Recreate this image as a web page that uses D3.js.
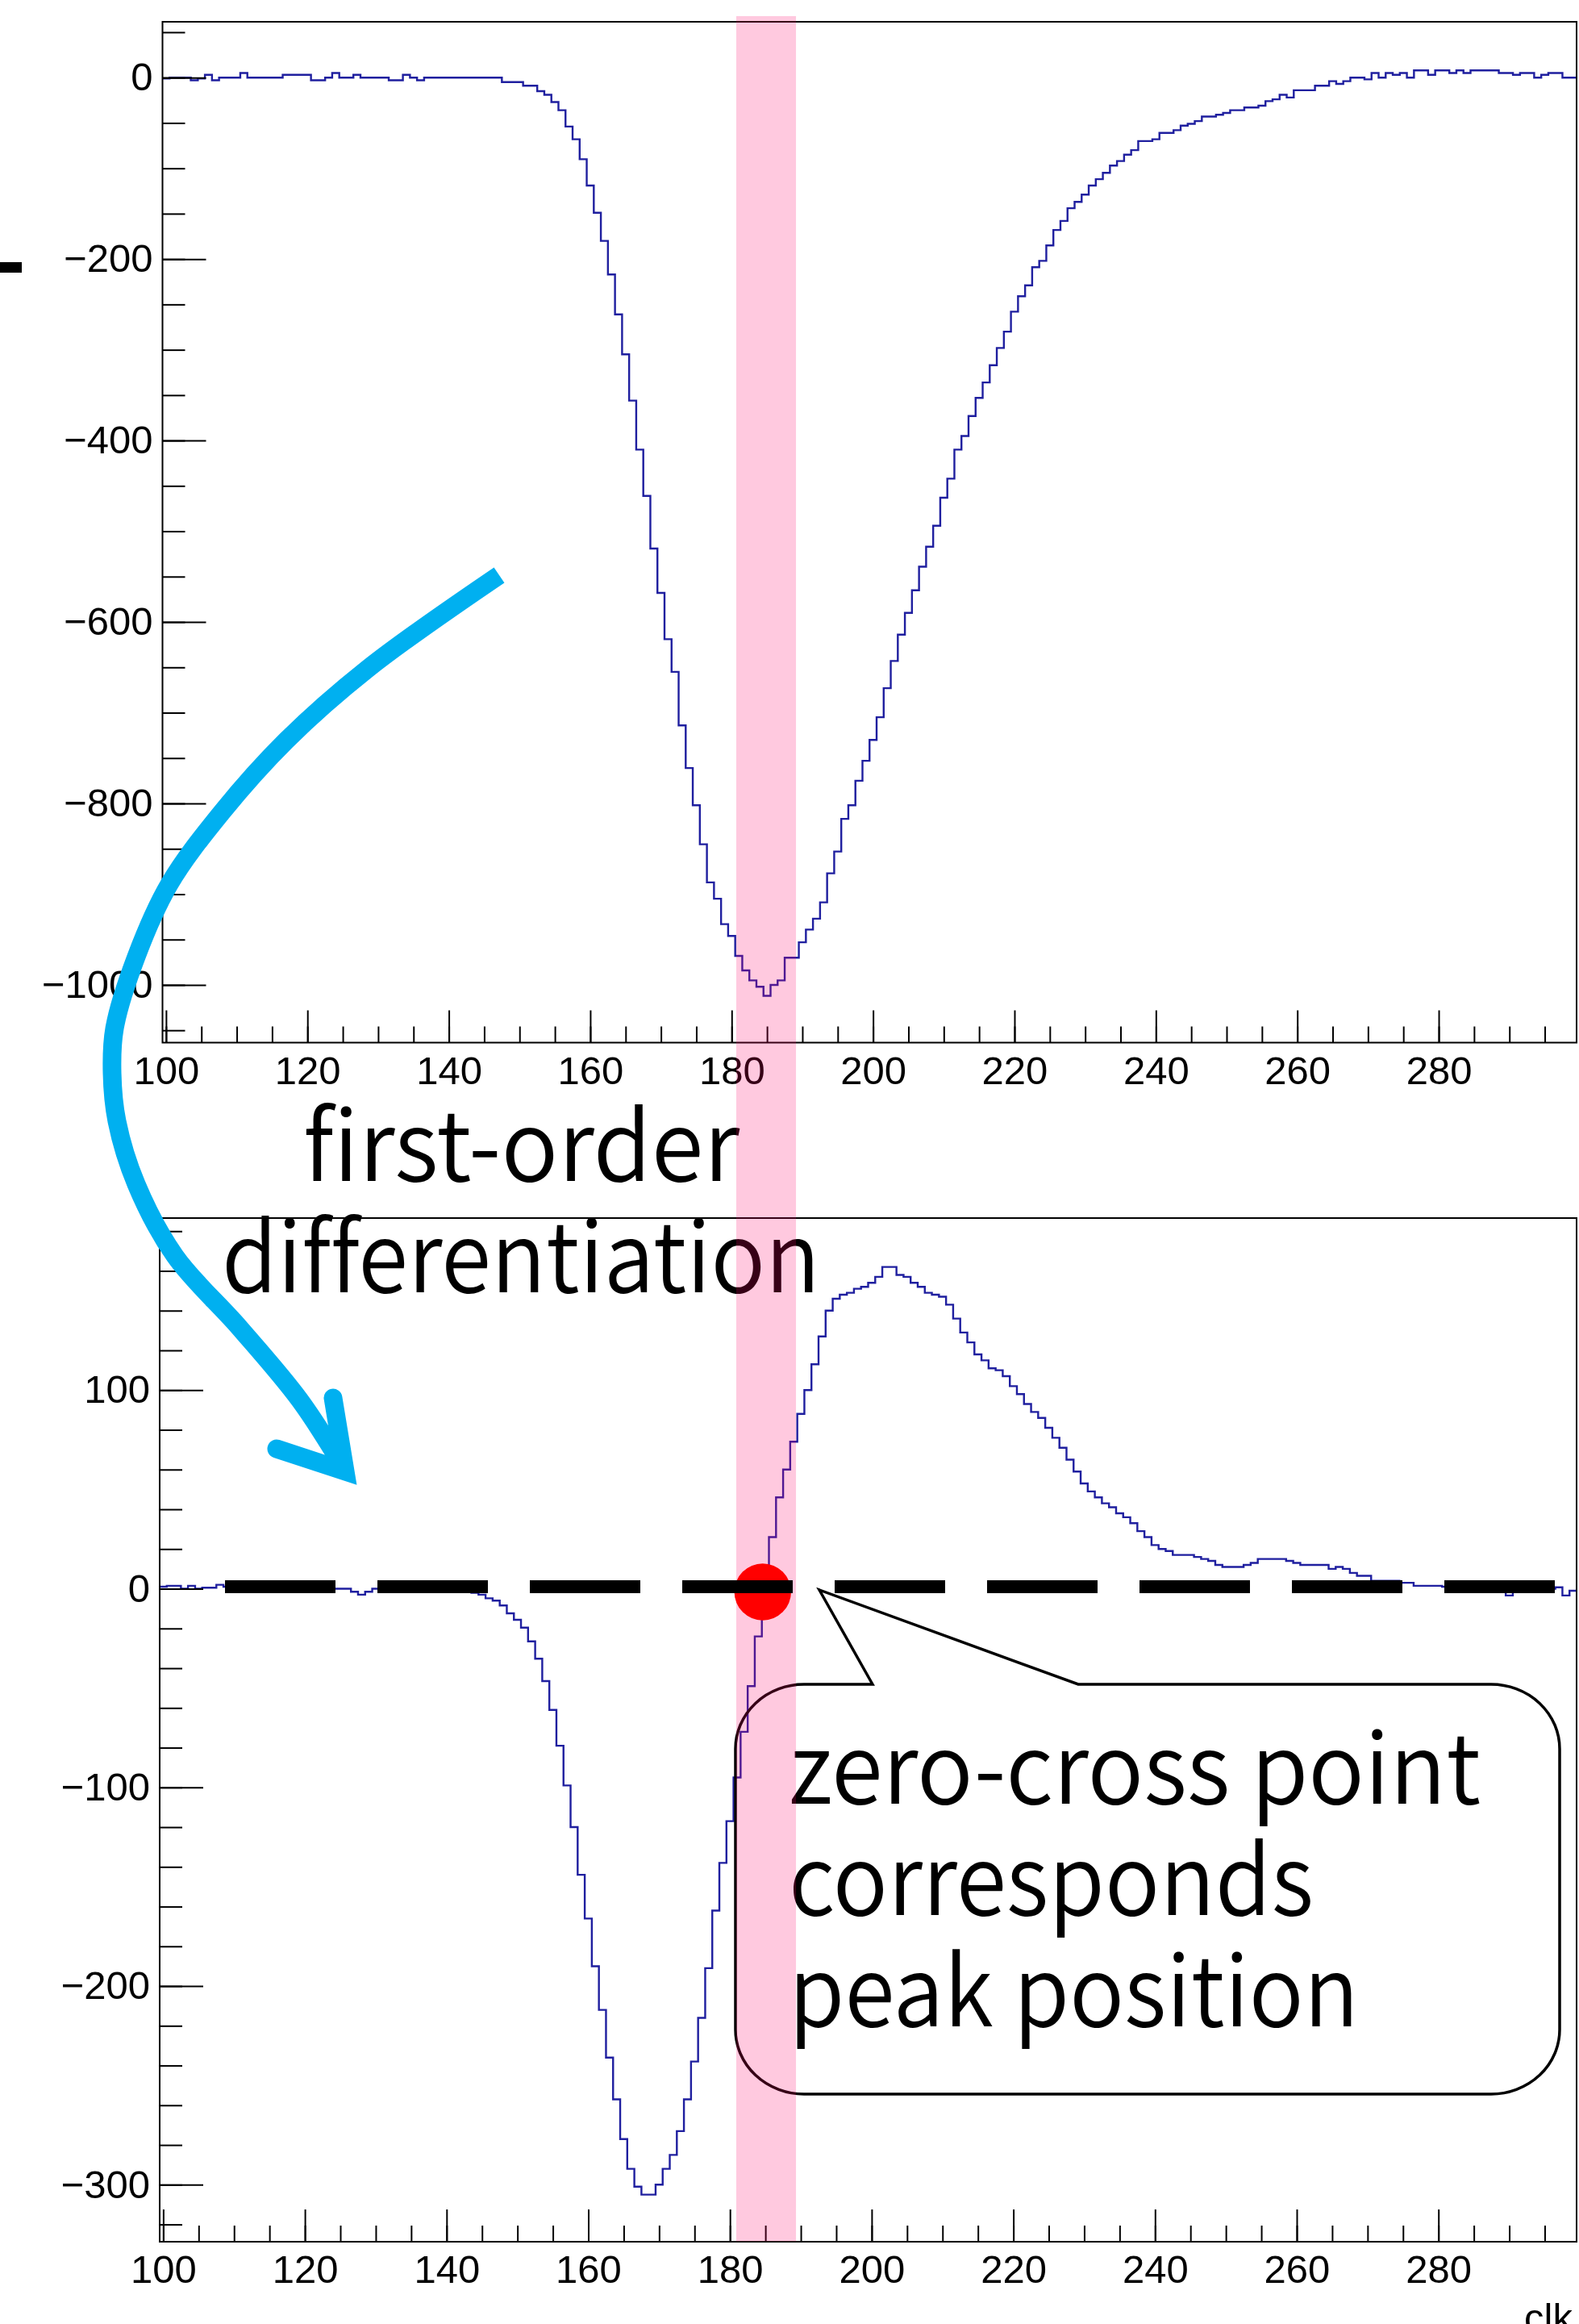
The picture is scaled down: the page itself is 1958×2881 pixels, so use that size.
<!DOCTYPE html>
<html>
<head>
<meta charset="utf-8">
<script src="https://cdn.jsdelivr.net/npm/d3@7"></script>
<style>
  html, body { margin: 0; padding: 0; background: #fff; }
  svg { display: block; }
  .note text { font-variant-ligatures: none; font-feature-settings: "liga" 0, "clig" 0; }
</style>
</head>
<body>
<svg id="fig" width="1958" height="2881"></svg>
<script>
// ---- data: one bin per clock, bin centres 100 ... 299 ----
const binStart = 100;
const binCount = 200;

// recorded waveform (ADC counts, baseline subtracted)
const rawSignal = [
  -1, 0, 0, 0, -3, -1, 3, -3, 0, 0,                 // 100
  0, 5, 0, 0, 0, 0, 0, 3, 3, 3,                     // 110
  3, -3, -3, 0, 5, 0, 0, 3, 0, 0,                   // 120
  0, 0, -3, -3, 3, 0, -3, 0, 0, 0,                  // 130
  0, 0, 0, 0, 0, 0, 0, 0, -5, -5,                   // 140
  -5, -9, -9, -15, -19, -27, -36, -54, -68, -90,    // 150
  -119, -149, -180, -217, -261, -305, -356, -410, -461, -519,   // 160
  -568, -619, -655, -714, -761, -802, -845, -887, -905, -933,   // 170
  -946, -968, -984, -995, -1002, -1012, -1000, -995, -970, -970, // 180
  -953, -939, -927, -909, -877, -853, -817, -802, -775, -753,   // 190
  -730, -705, -673, -643, -614, -590, -565, -539, -517, -494,   // 200
  -463, -442, -410, -395, -373, -353, -336, -317, -298, -280,   // 210
  -258, -241, -229, -209, -202, -185, -168, -158, -144, -137,   // 220
  -129, -119, -112, -105, -97, -92, -85, -80, -70, -70,         // 230
  -68, -61, -61, -58, -53, -51, -48, -43, -43, -41,             // 240
  -39, -36, -36, -33, -33, -31, -26, -24, -19, -22,             // 250
  -14, -14, -14, -9, -9, -4, -7, -4, 0, 0,                      // 260
  -2, 5, 0, 5, 3, 5, 0, 8, 8, 3,                                // 270
  8, 8, 5, 8, 5, 8, 8, 8, 8, 5,                                 // 280
  5, 3, 5, 5, 0, 3, 5, 5, 0, 0                                  // 290
];

// first-order difference of the waveform
const diffSignal = [
  1, 1.5, 1.5, 0, 1.5, 0, 0.5, 0.5, 2, 1,                       // 100
  1, 0.5, 0, 0, 0, 0, 0, 0, 0, 0,                               // 110
  0, 0, 0, 0, 0, 0, 0, -1.5, -3, -1.5,                          // 120
  0, 0, 0, 0, 0, 0, 0, 0, 0, 0,                                 // 130
  -1, -1, -1, -1.5, -2, -3, -4.8, -6, -8.4, -12.4,              // 140
  -15.6, -19.6, -26.5, -35.2, -46.5, -61, -79, -99, -120, -144, // 150
  -166, -190, -212, -236, -257, -277, -292, -301, -305, -305,   // 160
  -300, -292, -285, -273, -257, -238, -216, -191, -162, -138,   // 170
  -117, -95, -72, -49, -24, 1, 26, 46, 60, 74,                  // 180
  88, 100, 113, 127, 140, 146, 148, 149, 151, 152,              // 190
  154, 157, 162, 162, 158, 157, 154, 152, 149, 148,             // 200
  147, 143, 136, 129, 124, 118, 115, 111, 110, 107,             // 210
  102, 98, 93, 89, 86, 81, 76, 71, 65, 59,                      // 220
  53, 49, 46, 43, 41, 38, 36, 33, 29, 26,                       // 230
  22, 20, 19, 17, 17, 17, 16, 15, 14, 12,                       // 240
  11, 11, 11, 12, 13, 15, 15, 15, 15, 14,                       // 250
  13, 12, 12, 12, 12, 10, 11, 10, 8, 6.5,                       // 260
  6.5, 4, 4, 4, 4, 3, 3, 1.5, 1.5, 1.5,                         // 270
  1.5, 1, 1, 0, 0, 0, 0, 0, -1, -1,                             // 280
  -3.4, 0, 0, 0, 0, 0, 0, 0.7, -3.4, -1                         // 290
];

// axis ticks
const xMajorTicks = [100, 120, 140, 160, 180, 200, 220, 240, 260, 280];
const xMinorTicks = d3.range(100, 300, 5);
const rawMajorTicks = [-1000, -800, -600, -400, -200, 0];
const rawMinorTicks = d3.range(-1050, 51, 50);
const diffMajorTicks = [-300, -200, -100, 0, 100];
const diffMinorTicks = d3.range(-320, 181, 20);
const xTitle = "clk";

// annotations (in clk / data units)
const peakWindow = [180.65, 189.1];
const zeroCross = { clk: 184.62, value: -1.6 };
const operationLines = ["first-order", "differentiation"];
const calloutLines = ["zero-cross point", "corresponds", "peak position"];

// ---- drawing ----
const svg = d3.select("#fig");
svg.append("rect").attr("width", 1958).attr("height", 2881).attr("fill", "#fff");

const xDomain = [binStart - 0.5, binStart + binCount - 0.5];
const tickFont = "'Liberation Sans', Arial, Helvetica, sans-serif";
const noteFont = "'Noto Sans CJK JP', 'Noto Sans', sans-serif";
const noteWeight = 350;
const histColor = "#1f1f9f";

const panels = [
  {
    id: "raw", values: rawSignal,
    x: d3.scaleLinear(xDomain, [201.5, 1955]),
    y: d3.scaleLinear([-1063.6, 61.5], [1292.5, 27]),
    yMajor: rawMajorTicks, yMinor: rawMinorTicks
  },
  {
    id: "diff", values: diffSignal,
    x: d3.scaleLinear(xDomain, [198, 1955]),
    y: d3.scaleLinear([-328.7, 186.6], [2779, 1510]),
    yMajor: diffMajorTicks, yMinor: diffMinorTicks
  }
];

function styleAxis(g) {
  g.select(".domain").remove();
  g.attr("font-family", tickFont).attr("font-size", 49).attr("fill", "#000");
  g.selectAll(".tick line").attr("stroke", "#000").attr("stroke-width", 2);
  g.selectAll(".tick text").attr("fill", "#000");
}

const fmt = d3.format("d");

panels.forEach(p => {
  const [x0, x1] = p.x.range();
  const [yb, yt] = p.y.range();
  const g = svg.append("g").attr("class", "panel-" + p.id);

  // histogram outline (step per bin), clipped to the frame
  const clipId = "clip-" + p.id;
  svg.append("clipPath").attr("id", clipId)
    .append("rect").attr("x", x0).attr("y", yt).attr("width", x1 - x0).attr("height", yb - yt);

  const pts = p.values.map((v, i) => [binStart + i - 0.5, v]);
  pts.push([binStart + binCount - 0.5, p.values[p.values.length - 1]]);
  const line = d3.line()
    .x(d => p.x(d[0]))
    .y(d => p.y(d[1]))
    .curve(d3.curveStepAfter);
  g.append("path")
    .attr("clip-path", `url(#${clipId})`)
    .attr("d", line(pts))
    .attr("fill", "none")
    .attr("stroke", histColor)
    .attr("stroke-width", 2.4);

  // y axis: minor then major ticks, drawn inward
  g.append("g").attr("transform", `translate(${x0},0)`)
    .call(d3.axisLeft(p.y).tickValues(p.yMinor).tickSizeInner(-28).tickSizeOuter(0).tickFormat(""))
    .call(styleAxis);
  g.append("g").attr("transform", `translate(${x0},0)`)
    .call(d3.axisLeft(p.y).tickValues(p.yMajor).tickSizeInner(-54).tickSizeOuter(0).tickPadding(12).tickFormat(fmt))
    .call(styleAxis);

  // x axis
  g.append("g").attr("transform", `translate(0,${yb})`)
    .call(d3.axisBottom(p.x).tickValues(xMinorTicks).tickSizeInner(-20).tickSizeOuter(0).tickFormat(""))
    .call(styleAxis);
  g.append("g").attr("transform", `translate(0,${yb})`)
    .call(d3.axisBottom(p.x).tickValues(xMajorTicks).tickSizeInner(-40).tickSizeOuter(0).tickPadding(16.5).tickFormat(fmt))
    .call(styleAxis);

  // frame
  g.append("rect")
    .attr("x", x0).attr("y", yt).attr("width", x1 - x0).attr("height", yb - yt)
    .attr("fill", "none").attr("stroke", "#000").attr("stroke-width", 2);
});

const rawP = panels[0], diffP = panels[1];

// x-axis title of the lower panel
svg.append("text")
  .attr("x", 1950).attr("y", 2890)
  .attr("text-anchor", "end")
  .attr("font-family", tickFont).attr("font-size", 49)
  .text(xTitle);

// large annotation text; each line is fitted to its own width
function noteText(parent, str, x, y, width) {
  return parent.append("text")
    .attr("x", x).attr("y", y)
    .attr("textLength", width).attr("lengthAdjust", "spacingAndGlyphs")
    .text(str);
}

// operation label between the panels
const note = svg.append("g").attr("class", "note")
  .attr("font-family", noteFont).attr("font-size", 120).attr("font-weight", noteWeight).attr("fill", "#000");
noteText(note, operationLines[0], 376, 1464, 541);
noteText(note, operationLines[1], 275, 1602, 742);

// callout box with pointer towards the zero crossing
const box = { x0: 912, x1: 1934, y0: 2088, y1: 2596, rx: 85, ry: 80 };
const tail = { left: 1082, tip: [1016, 1971], right: 1337 };
const calloutPath = [
  `M${tail.left},${box.y0}`,
  `L${tail.tip[0]},${tail.tip[1]}`,
  `L${tail.right},${box.y0}`,
  `L${box.x1 - box.rx},${box.y0}`,
  `A${box.rx},${box.ry} 0 0 1 ${box.x1},${box.y0 + box.ry}`,
  `L${box.x1},${box.y1 - box.ry}`,
  `A${box.rx},${box.ry} 0 0 1 ${box.x1 - box.rx},${box.y1}`,
  `L${box.x0 + box.rx},${box.y1}`,
  `A${box.rx},${box.ry} 0 0 1 ${box.x0},${box.y1 - box.ry}`,
  `L${box.x0},${box.y0 + box.ry}`,
  `A${box.rx},${box.ry} 0 0 1 ${box.x0 + box.rx},${box.y0}`,
  "Z"
].join(" ");
svg.append("path").attr("d", calloutPath)
  .attr("fill", "none").attr("stroke", "#000").attr("stroke-width", 3.5).attr("stroke-linejoin", "miter");

const callout = svg.append("g").attr("class", "note")
  .attr("font-family", noteFont).attr("font-size", 120).attr("font-weight", noteWeight).attr("fill", "#000");
const calloutWidths = [858, 651, 707];
calloutLines.forEach((t, i) => {
  noteText(callout, t, 978, 2235.5 + i * 138.3, calloutWidths[i]);
});

// curved arrow from the waveform down to the derivative
const arrowPts = [
  [619, 713], [456, 829], [355, 918], [275, 1007], [210, 1096], [169, 1186],
  [142, 1275], [139, 1330], [145, 1390], [169, 1468], [217, 1557], [297, 1646],
  [372, 1736], [425, 1818]
];
const arrowColor = "#00b0f0";
svg.append("path")
  .attr("d", d3.line().curve(d3.curveCatmullRom.alpha(0.5))(arrowPts))
  .attr("fill", "none").attr("stroke", arrowColor).attr("stroke-width", 23).attr("stroke-linecap", "butt");
svg.append("path")
  .attr("d", d3.line()([[343, 1796], [428, 1824], [413, 1733]]))
  .attr("fill", "none").attr("stroke", arrowColor).attr("stroke-width", 23)
  .attr("stroke-linecap", "round").attr("stroke-linejoin", "miter").attr("stroke-miterlimit", 10);

// highlighted peak window across both panels
svg.append("rect")
  .attr("x", rawP.x(peakWindow[0]))
  .attr("width", rawP.x(peakWindow[1]) - rawP.x(peakWindow[0]))
  .attr("y", 20).attr("height", diffP.y.range()[0] - 20)
  .attr("fill", "rgb(255,0,105)").attr("fill-opacity", 0.21);

// zero-crossing marker and zero reference line
svg.append("circle")
  .attr("cx", diffP.x(zeroCross.clk)).attr("cy", diffP.y(zeroCross.value))
  .attr("r", 35.2).attr("fill", "#ff0000");
svg.append("line")
  .attr("x1", 279).attr("x2", 1929)
  .attr("y1", diffP.y(1)).attr("y2", diffP.y(1))
  .attr("stroke", "#000").attr("stroke-width", 16).attr("stroke-dasharray", "137 52");

// small mark at the left edge
svg.append("rect").attr("x", 0).attr("y", 325).attr("width", 27).attr("height", 13).attr("fill", "#000");
</script>
</body>
</html>
